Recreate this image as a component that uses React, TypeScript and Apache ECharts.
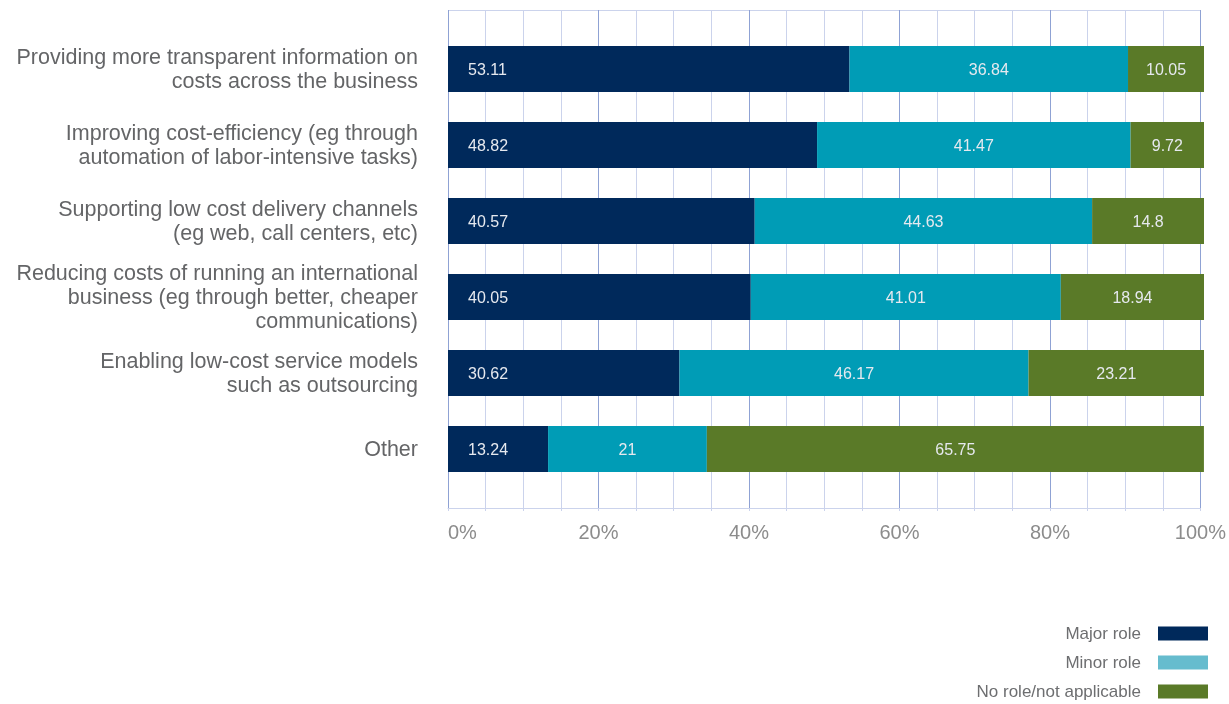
import React, { useEffect, useRef } from "react";
import * as echarts from "echarts";

const categories = [
  "Providing more transparent information on\ncosts across the business",
  "Improving cost-efficiency (eg through\nautomation of labor-intensive tasks)",
  "Supporting low cost delivery channels\n(eg web, call centers, etc)",
  "Reducing costs of running an international\nbusiness (eg through better, cheaper\ncommunications)",
  "Enabling low-cost service models\nsuch as outsourcing",
  "Other",
];
const majorRole = [53.11, 48.82, 40.57, 40.05, 30.62, 13.24];
const minorRole = [36.84, 41.47, 44.63, 41.01, 46.17, 21];
const noRole = [10.05, 9.72, 14.8, 18.94, 23.21, 65.75];
const seriesNames = ["Major role", "Minor role", "No role/not applicable"];
const tickLabels = ["0%", "20%", "40%", "60%", "80%", "100%"];

const FONT = "'Liberation Sans', Arial, sans-serif";
const C_MAJOR = "#00295b";
const C_MINOR = "#009cb6";
const C_MINOR_LEGEND = "#66bcce";
const C_NONE = "#5a7a28";
const GRID_MAJOR = "#8fa2d4";
const GRID_MINOR = "#cbd3ec";

export default function App() {
  const ref = useRef<HTMLDivElement>(null);
  useEffect(() => {
    if (!ref.current) return;
    const chart = echarts.init(ref.current, undefined, { renderer: "svg" });
    const labelStyle = {
      show: true,
      color: "#e6e9ef",
      fontFamily: FONT,
      fontSize: 16,
      formatter: (p: any) => String(p.value),
    };
    chart.setOption({
      animation: false,
      textStyle: { fontFamily: FONT },
      grid: [
        { left: 448, top: 10, width: 756, height: 498, containLabel: false },
        { left: 448, top: 31, width: 756, height: 456, containLabel: false },
      ],
      xAxis: [
        {
          gridIndex: 0,
          type: "value",
          min: 0,
          max: 100,
          interval: 5,
          axisLine: { show: true, lineStyle: { color: GRID_MINOR, width: 1 } },
          axisTick: { show: true, length: 3, lineStyle: { color: GRID_MINOR } },
          axisLabel: {
            margin: 14,
            fontFamily: FONT,
            fontSize: 20,
            color: "#8c8c8c",
            alignMinLabel: "left",
            formatter: (v: number) => (v % 20 === 0 ? tickLabels[v / 20] : ""),
          },
          splitLine: {
            show: true,
            lineStyle: {
              color: [GRID_MAJOR, GRID_MINOR, GRID_MINOR, GRID_MINOR],
              width: 1,
            },
          },
        },
        {
          gridIndex: 1,
          type: "value",
          min: 0,
          max: 100,
          show: false,
        },
      ],
      yAxis: [
        {
          gridIndex: 0,
          type: "value",
          min: 0,
          max: 1,
          interval: 1,
          axisLine: { show: false },
          axisTick: { show: false },
          axisLabel: { show: false },
          splitLine: { show: true, lineStyle: { color: GRID_MINOR } },
        },
        {
          gridIndex: 1,
          type: "category",
          inverse: true,
          data: categories,
          axisLine: { show: false },
          axisTick: { show: false },
          axisLabel: {
            margin: 30,
            fontFamily: FONT,
            fontSize: 21.5,
            lineHeight: 24,
            color: "#646567",
            align: "right",
          },
        },
      ],
      legend: {
        orient: "vertical",
        right: 21,
        top: 625,
        height: 120,
        padding: 0,
        align: "right",
        itemWidth: 50,
        itemHeight: 14,
        itemGap: 12,
        icon: "rect",
        textStyle: {
          fontFamily: FONT,
          fontSize: 17,
          color: "#6d6e70",
          padding: [0, 12, 0, 0],
        },
        data: [
          { name: seriesNames[0], itemStyle: { color: C_MAJOR } },
          { name: seriesNames[1], itemStyle: { color: C_MINOR_LEGEND } },
          { name: seriesNames[2], itemStyle: { color: C_NONE } },
        ],
      },
      series: [
        {
          name: seriesNames[0],
          type: "bar",
          stack: "total",
          xAxisIndex: 1,
          yAxisIndex: 1,
          barWidth: 46,
          data: majorRole,
          itemStyle: { color: C_MAJOR },
          label: { ...labelStyle, position: "insideLeft", distance: 20 },
        },
        {
          name: seriesNames[1],
          type: "bar",
          stack: "total",
          xAxisIndex: 1,
          yAxisIndex: 1,
          barWidth: 46,
          data: minorRole,
          itemStyle: { color: C_MINOR },
          label: { ...labelStyle, position: "inside" },
        },
        {
          name: seriesNames[2],
          type: "bar",
          stack: "total",
          xAxisIndex: 1,
          yAxisIndex: 1,
          barWidth: 46,
          data: noRole,
          itemStyle: { color: C_NONE },
          label: { ...labelStyle, position: "inside" },
        },
      ],
    });
    return () => chart.dispose();
  }, []);
  return (
    <div
      ref={ref}
      style={{ position: "fixed", left: 0, top: 0, width: 1229, height: 704 }}
    />
  );
}
